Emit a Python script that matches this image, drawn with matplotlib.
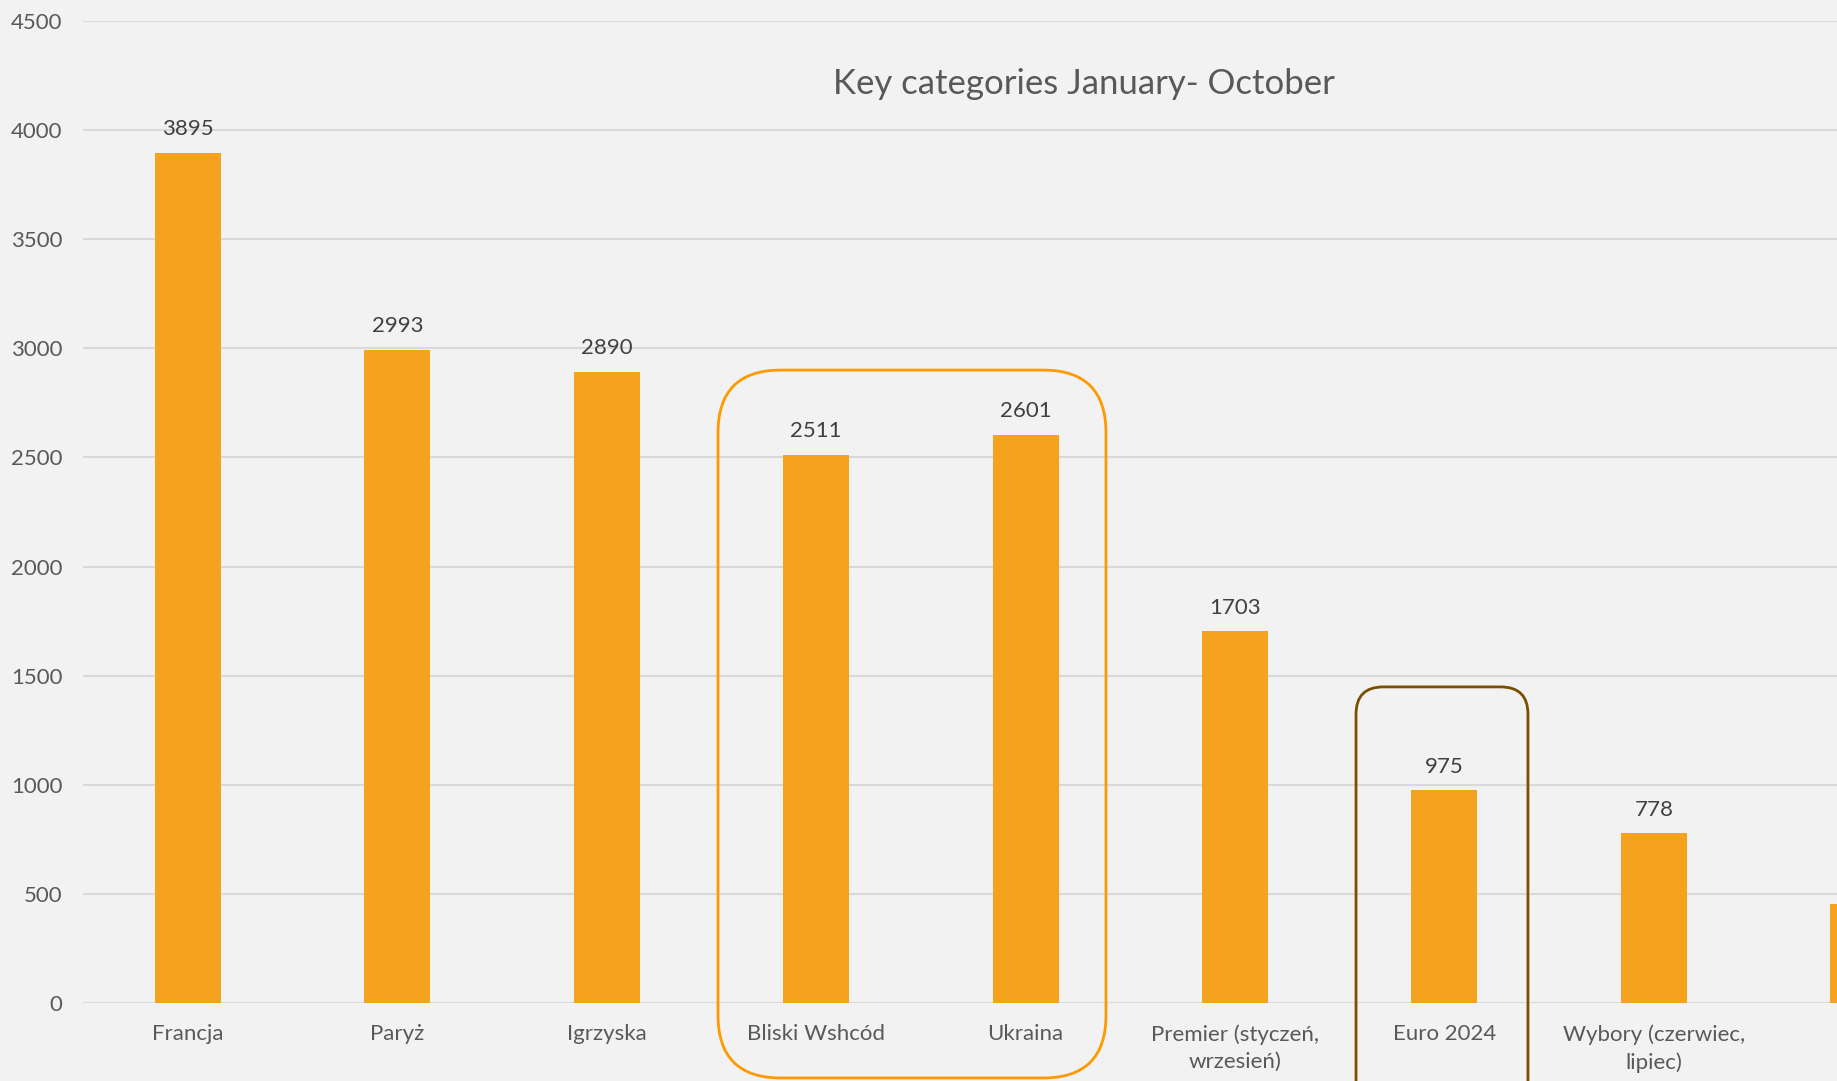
import matplotlib
matplotlib.use("Agg")
import matplotlib.pyplot as plt
from matplotlib.patches import FancyBboxPatch
import numpy as np

categories = ["Francja", "Paryż", "Igrzyska", "Bliski Wshcód", "Ukraina",
              "Premier (styczeń,\nwrzesień)", "Euro 2024", "Wybory (czerwiec,\nlipiec)", ""]
values = [3895, 2993, 2890, 2511, 2601, 1703, 975, 778, 455]
show_label = [True] * 8 + [False]
yticks = list(range(0, 4501, 500))
title = "Key categories January- October"

BG = "#F2F2F2"
BAR = "#F5A31F"
GRID = "#D9D9D9"
TXT = "#595959"
VAL = "#404040"

plt.rcParams['font.family'] = ['Lato', 'DejaVu Sans']

W, H = 1837, 1081
fig = plt.figure(figsize=(W / 100, H / 100), dpi=100, facecolor=BG)
n = len(categories)
cat_px = 209.4
left_px = 83.3
ax = fig.add_axes([left_px / W, (H - 1003.3) / H, n * cat_px / W, 982.6 / H])
ax.set_facecolor(BG)
x = np.arange(n)
ax.bar(x, values, width=0.315, color=BAR, zorder=3)
ax.set_xlim(-0.5, n - 0.5)
ax.set_ylim(0, 4500)
ax.set_yticks(yticks)
ax.set_yticklabels([str(t) for t in yticks], fontsize=16, color=TXT)
ax.set_xticks(x)
ax.set_xticklabels(categories, fontsize=16, color=TXT, linespacing=1.45)
ax.tick_params(axis='both', length=0)
ax.tick_params(axis='y', pad=15)
ax.tick_params(axis='x', pad=15)
for s in ax.spines.values():
    s.set_visible(False)
ax.grid(axis='y', color=GRID, lw=1.5, zorder=0)
ax.set_axisbelow(True)

for xi, v, sl in zip(x, values, show_label):
    if sl:
        ax.annotate(str(v), (xi, v), xytext=(0, 10), textcoords='offset points',
                    ha='center', va='bottom', fontsize=16, color=VAL)

fig.text(1084 / W, 1 - 84 / H, title, ha='center', va='center', fontsize=25, color=TXT)

# highlight boxes (data coordinates)
px_per_y = (982.6 / 4500)
aspect = cat_px / px_per_y  # y-units per x-unit
orange = FancyBboxPatch((2.531, -342), 4.384 - 2.531, 2900 + 342,
                        boxstyle="round,pad=0,rounding_size=0.3",
                        mutation_aspect=aspect, fill=False, ec="#FF9900", lw=2,
                        clip_on=False, zorder=4)
ax.add_patch(orange)
brown = FancyBboxPatch((5.578, -700), 6.399 - 5.578, 1449 + 700,
                       boxstyle="round,pad=0,rounding_size=0.13",
                       mutation_aspect=aspect, fill=False, ec="#7A4F00", lw=2,
                       clip_on=False, zorder=4)
ax.add_patch(brown)

fig.savefig("out.png", dpi=100, facecolor=BG)
